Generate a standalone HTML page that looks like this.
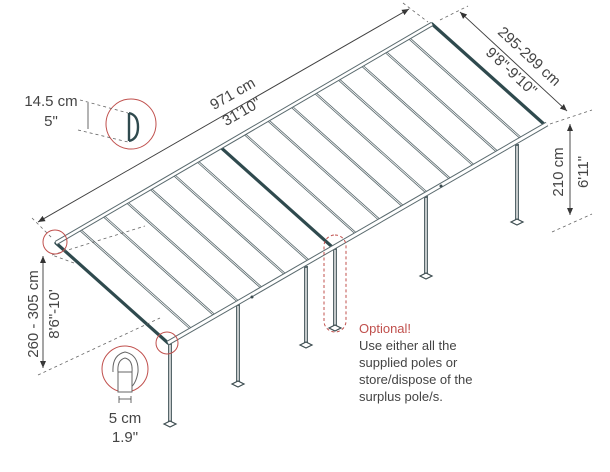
<!DOCTYPE html>
<html><head><meta charset="utf-8"><style>
html,body{margin:0;padding:0;background:#fff;}
svg{display:block;font-family:"Liberation Sans",sans-serif;}
</style></head><body>
<svg width="610" height="472" viewBox="0 0 610 472" xmlns="http://www.w3.org/2000/svg">
<defs>
<marker id="ar" markerWidth="8" markerHeight="8" refX="7" refY="4" orient="auto" markerUnits="userSpaceOnUse"><path d="M0,1 L7,4 L0,7 Z" fill="#333"/></marker>
</defs>
<!-- posts -->
<g stroke="#56666a" stroke-width="4" fill="none">
<line x1="170" y1="343" x2="170" y2="424"/>
<line x1="238" y1="304" x2="238" y2="384"/>
<line x1="306" y1="266" x2="306" y2="345"/>
<line x1="335" y1="248" x2="335" y2="328"/>
<line x1="426" y1="196" x2="426" y2="276"/>
<line x1="517" y1="144" x2="517" y2="222"/>
</g>
<g stroke="#fff" stroke-width="1.3">
<line x1="170" y1="345" x2="170" y2="422"/>
<line x1="238" y1="306" x2="238" y2="382"/>
<line x1="306" y1="268" x2="306" y2="343"/>
<line x1="335" y1="250" x2="335" y2="326"/>
<line x1="426" y1="198" x2="426" y2="274"/>
<line x1="517" y1="146" x2="517" y2="220"/>
</g>
<g fill="#fff" stroke="#3c4c50" stroke-width="1.2">
<path d="M164,424 L170,421 L176,424 L170,427Z"/>
<path d="M232,384 L238,381 L244,384 L238,387Z"/>
<path d="M300,345 L306,342 L312,345 L306,348Z"/>
<path d="M329,328 L335,325 L341,328 L335,331Z"/>
<path d="M420,276 L426,273 L432,276 L426,279Z"/>
<path d="M511,222 L517,219 L523,222 L517,225Z"/>
</g>
<!-- rafters -->
<g stroke="#5a6a6e" stroke-width="2.4" fill="none">
<line x1="79.5" y1="229.3" x2="191.6" y2="329.4"/>
<line x1="103" y1="215.6" x2="215.1" y2="315.8"/>
<line x1="126.5" y1="201.9" x2="238.7" y2="302.1"/>
<line x1="150" y1="188.3" x2="262.3" y2="288.5"/>
<line x1="173.5" y1="174.6" x2="285.8" y2="274.9"/>
<line x1="197" y1="160.9" x2="309.4" y2="261.3"/>
<line x1="244" y1="133.5" x2="356.5" y2="234"/>
<line x1="267.5" y1="119.8" x2="380.1" y2="220.4"/>
<line x1="291" y1="106.1" x2="403.6" y2="206.8"/>
<line x1="314.5" y1="92.4" x2="427.2" y2="193.1"/>
<line x1="338" y1="78.8" x2="450.8" y2="179.5"/>
<line x1="361.5" y1="65.1" x2="474.3" y2="165.9"/>
<line x1="385" y1="51.4" x2="497.9" y2="152.3"/>
<line x1="408.5" y1="37.7" x2="521.4" y2="138.6"/>
</g>
<g stroke="#fff" stroke-width="0.8" fill="none">
<line x1="79.5" y1="229.3" x2="191.6" y2="329.4"/>
<line x1="103" y1="215.6" x2="215.1" y2="315.8"/>
<line x1="126.5" y1="201.9" x2="238.7" y2="302.1"/>
<line x1="150" y1="188.3" x2="262.3" y2="288.5"/>
<line x1="173.5" y1="174.6" x2="285.8" y2="274.9"/>
<line x1="197" y1="160.9" x2="309.4" y2="261.3"/>
<line x1="244" y1="133.5" x2="356.5" y2="234"/>
<line x1="267.5" y1="119.8" x2="380.1" y2="220.4"/>
<line x1="291" y1="106.1" x2="403.6" y2="206.8"/>
<line x1="314.5" y1="92.4" x2="427.2" y2="193.1"/>
<line x1="338" y1="78.8" x2="450.8" y2="179.5"/>
<line x1="361.5" y1="65.1" x2="474.3" y2="165.9"/>
<line x1="385" y1="51.4" x2="497.9" y2="152.3"/>
<line x1="408.5" y1="37.7" x2="521.4" y2="138.6"/>
</g>
<!-- side edges & seam -->
<g stroke="#2f4a4e" fill="none" stroke-linecap="round">
<line x1="56" y1="243" x2="168" y2="343" stroke-width="3.2"/>
<line x1="220.5" y1="147.2" x2="332.9" y2="247.6" stroke-width="3.2"/>
<line x1="432" y1="24" x2="545" y2="125" stroke-width="3.2"/>
</g>
<!-- back and front beams -->
<g fill="none">
<line x1="56" y1="243" x2="432" y2="24" stroke="#5a6a6e" stroke-width="4.5"/>
<line x1="56" y1="243" x2="432" y2="24" stroke="#fff" stroke-width="2.5"/>
<line x1="168" y1="343" x2="547" y2="124" stroke="#5a6a6e" stroke-width="5"/>
<line x1="168" y1="343" x2="547" y2="124" stroke="#fff" stroke-width="3"/>
</g>
<g fill="#3c4c50"><circle cx="252" cy="297" r="1.5"/><circle cx="441" cy="186" r="1.5"/></g>
<!-- dimension 971 -->
<line x1="38" y1="222" x2="409" y2="9" stroke="#444" stroke-width="0.8" marker-end="url(#ar)"/>
<line x1="409" y1="9" x2="38" y2="222" stroke="#444" stroke-width="0.8" marker-end="url(#ar)"/>
<g stroke="#666" stroke-width="0.8" stroke-dasharray="3,3" fill="none">
<line x1="32" y1="218" x2="52" y2="238"/>
<line x1="403" y1="3" x2="428" y2="22"/>
<line x1="440" y1="20" x2="468" y2="6"/>
<line x1="550" y1="124" x2="592" y2="110"/>
<line x1="552" y1="232" x2="592" y2="214"/>
<line x1="74" y1="263" x2="52" y2="255"/>
<line x1="52" y1="255" x2="145" y2="226"/>
<line x1="38" y1="375" x2="160" y2="318"/>
</g>
<text transform="translate(235,98) rotate(-30)" font-size="15" fill="#444" text-anchor="middle">971 cm</text>
<text transform="translate(244,116) rotate(-30)" font-size="15" fill="#444" text-anchor="middle">31'10"</text>
<!-- 295-299 -->
<line x1="460" y1="12" x2="567" y2="111" stroke="#444" stroke-width="0.8" marker-end="url(#ar)"/>
<line x1="567" y1="111" x2="460" y2="12" stroke="#444" stroke-width="0.8" marker-end="url(#ar)"/>
<text transform="translate(526,60) rotate(42.8)" font-size="15" fill="#444" text-anchor="middle">295-299 cm</text>
<text transform="translate(508,75) rotate(42.8)" font-size="15" fill="#444" text-anchor="middle">9'8"-9'10"</text>
<!-- 210 -->
<line x1="570" y1="124" x2="570" y2="215" stroke="#444" stroke-width="0.8" marker-end="url(#ar)"/>
<line x1="570" y1="215" x2="570" y2="124" stroke="#444" stroke-width="0.8" marker-end="url(#ar)"/>
<text transform="translate(563,172) rotate(-90)" font-size="15" fill="#444" text-anchor="middle">210 cm</text>
<text transform="translate(588,172) rotate(-90)" font-size="15" fill="#444" text-anchor="middle">6'11"</text>
<!-- 260-305 -->
<line x1="43" y1="256" x2="43" y2="368" stroke="#444" stroke-width="0.8" marker-end="url(#ar)"/>
<line x1="43" y1="368" x2="43" y2="256" stroke="#444" stroke-width="0.8" marker-end="url(#ar)"/>
<text transform="translate(38,314) rotate(-90)" font-size="15" fill="#444" text-anchor="middle">260 - 305 cm</text>
<text transform="translate(59,314) rotate(-90)" font-size="15" fill="#444" text-anchor="middle">8'6"-10'</text>
<!-- red circles -->
<g fill="none" stroke="#c0504d" stroke-width="1">
<circle cx="55" cy="242" r="12"/>
<circle cx="167" cy="343" r="11"/>
<circle cx="131" cy="124" r="25"/>
<circle cx="125" cy="369" r="23"/>
<rect x="324" y="235" width="22" height="97" rx="11" stroke-dasharray="3,2.5"/>
</g>
<!-- 14.5 detail -->
<g stroke="#666" stroke-width="0.8" stroke-dasharray="3,3"><line x1="80" y1="100" x2="128" y2="113"/><line x1="78" y1="130" x2="128" y2="142"/></g>
<line x1="88" y1="103" x2="88" y2="129" stroke="#444" stroke-width="0.8"/>
<path d="M129,113 L129,141 M129,113 Q138,115 138,127 Q138,139 129,141" stroke="#2f4a4e" stroke-width="2.4" fill="none"/>
<text x="51" y="106" font-size="15" fill="#444" text-anchor="middle">14.5 cm</text>
<text x="51" y="126" font-size="15" fill="#444" text-anchor="middle">5"</text>
<!-- 5cm detail -->
<g stroke="#666" stroke-width="1" fill="#fff">
<path d="M113,372 Q112,355 125,352 Q139,355 138,372 Q136,384 130,388"/>
<path d="M118,372 Q117,360 125,358 Q133,360 132,372 L132,392 L118,392 Z"/>
<line x1="118" y1="372" x2="132" y2="372"/>
</g>
<g stroke="#444" stroke-width="0.8"><line x1="119" y1="396" x2="119" y2="403"/><line x1="131" y1="396" x2="131" y2="403"/><line x1="119" y1="399" x2="131" y2="399"/></g>
<text x="125" y="423" font-size="15" fill="#444" text-anchor="middle">5 cm</text>
<text x="125" y="442" font-size="15" fill="#444" text-anchor="middle">1.9"</text>
<!-- optional text -->
<g font-size="13" fill="#444">
<text x="359" y="333" fill="#c0504d">Optional!</text>
<text x="359" y="350">Use either all the</text>
<text x="359" y="367">supplied poles or</text>
<text x="359" y="384">store/dispose of the</text>
<text x="359" y="401">surplus pole/s.</text>
</g>
</svg>
</body></html>
